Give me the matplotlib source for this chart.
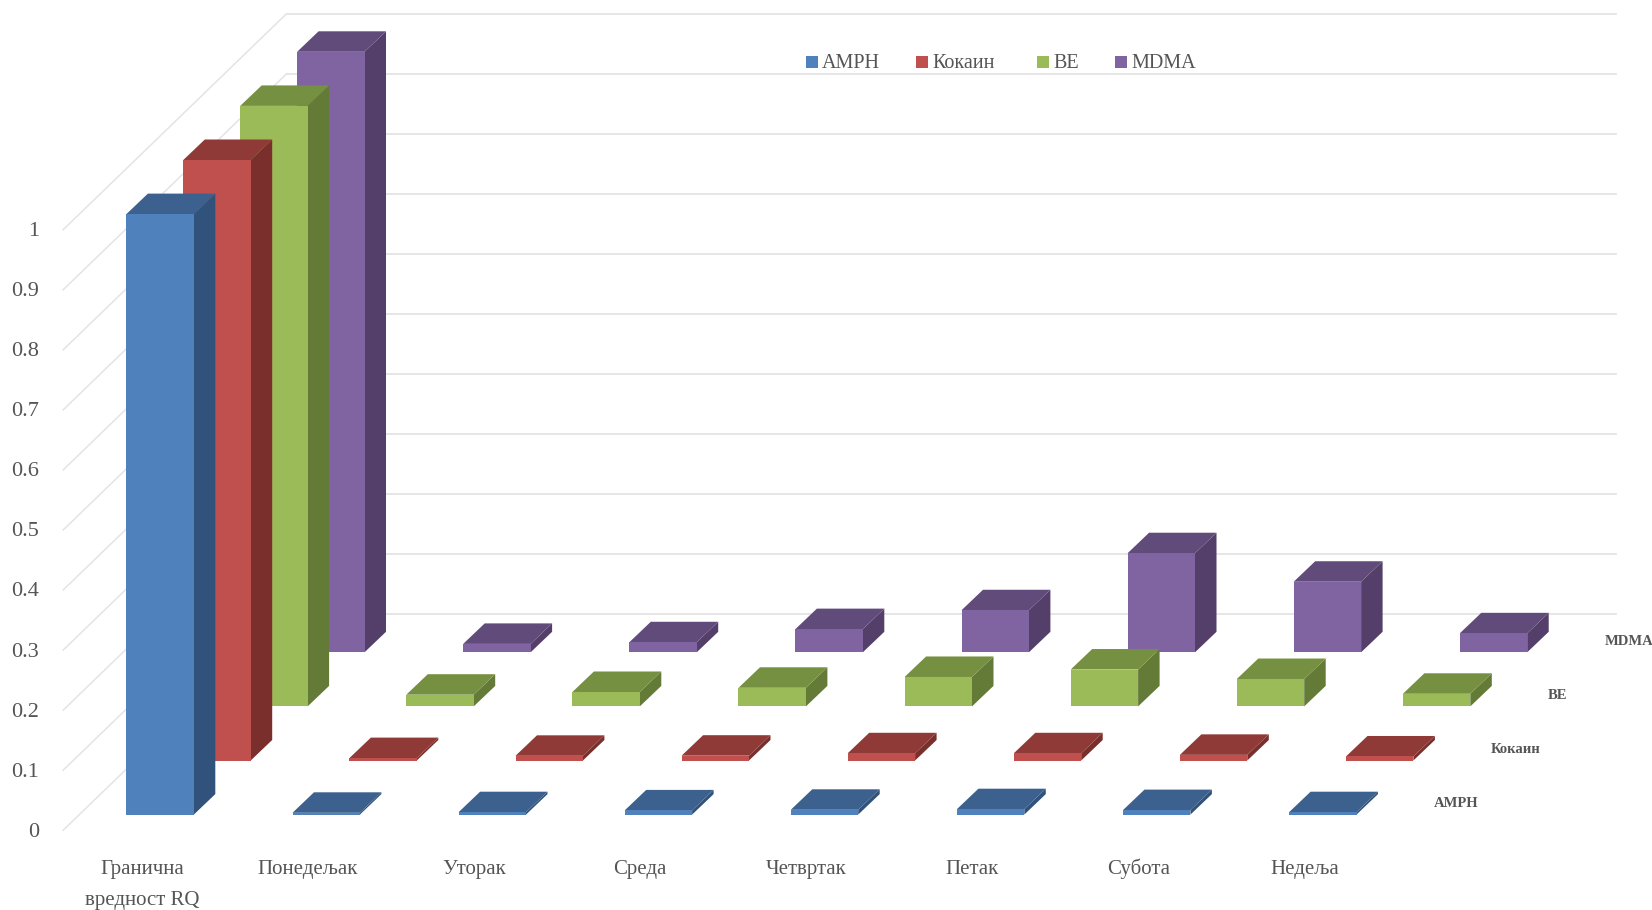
import matplotlib
matplotlib.use("Agg")
import matplotlib.pyplot as plt

# Подаци
categories = ["Гранична\nвредност RQ", "Понедељак", "Уторак", "Среда", "Четвртак", "Петак", "Субота", "Недеља"]
series_names = ["AMPH", "Кокаин", "BE", "MDMA"]
amph = [1.0, 0.003, 0.004, 0.007, 0.008, 0.009, 0.0075, 0.004]
kokain = [1.0, 0.004, 0.0078, 0.008, 0.012, 0.012, 0.0094, 0.0067]
be = [1.0, 0.0195, 0.024, 0.031, 0.049, 0.0614, 0.0456, 0.021]
mdma = [1.0, 0.014, 0.0167, 0.0386, 0.07, 0.165, 0.1175, 0.0316]
y_ticks = [0, 0.1, 0.2, 0.3, 0.4, 0.5, 0.6, 0.7, 0.8, 0.9, 1]
y_labels = ["0", "0.1", "0.2", "0.3", "0.4", "0.5", "0.6", "0.7", "0.8", "0.9", "1"]
all_series = [amph, kokain, be, mdma]

# Боје: предња, бочна и горња страна
front = ["#4F81BD", "#C0504D", "#9BBB59", "#8064A2"]
side = ["#31527B", "#7A2F2C", "#647A37", "#533F69"]
top = ["#3C618F", "#8F3A37", "#769042", "#614B7B"]
TEXT = "#555555"
GRID = "#E4E4E4"

# Геометрија косе пројекције (у пикселима слике)
X0, BASE_Y = 126.4, 814.6
CAT_STEP = 166.1
SER_DX, SER_DY = 56.9, 54.1
BAR_W = 67.4
DEPTH_DX, DEPTH_DY = 21.5, 20.5
UNIT = 600.5
WALL_X0, WALL_X1, WALL_Y0 = 286.6, 1616, 614.2
FLOOR_X0, FLOOR_Y0 = 63.2, 830.2


def project(cat, ser, val):
    x = X0 + cat * CAT_STEP + ser * SER_DX
    y = BASE_Y - ser * SER_DY - val * UNIT
    return x, y


plt.rcParams["font.family"] = ["Liberation Serif", "DejaVu Serif"]
fig = plt.figure(figsize=(16.52, 9.1), dpi=100)
ax = fig.add_axes([0, 0, 1, 1])
ax.set_xlim(0, 1652)
ax.set_ylim(910, 0)
ax.axis("off")

# Мрежа и ознаке осе
for tick, lab in zip(y_ticks, y_labels):
    yb = WALL_Y0 - tick * UNIT
    yf = FLOOR_Y0 - tick * UNIT
    ax.plot([WALL_X0, WALL_X1], [yb, yb], color=GRID, lw=1.3, zorder=1)
    ax.plot([FLOOR_X0, WALL_X0], [yf, yb], color=GRID, lw=1.1, zorder=1)
    ax.text(39, yf + 2, lab, ha="right", va="center", fontsize=16, color=TEXT)

# Стубићи, од задњег реда ка предњем
z = 2
for ser in range(len(all_series) - 1, -1, -1):
    vals = all_series[ser]
    for cat, val in enumerate(vals):
        x, y = project(cat, ser, val)
        _, y0 = project(cat, ser, 0)
        x1 = x + BAR_W
        ax.fill([x1, x1 + DEPTH_DX, x1 + DEPTH_DX, x1],
                [y0, y0 - DEPTH_DY, y - DEPTH_DY, y], color=side[ser], lw=0, zorder=z)
        ax.fill([x, x + DEPTH_DX, x1 + DEPTH_DX, x1],
                [y, y - DEPTH_DY, y - DEPTH_DY, y], color=top[ser], lw=0, zorder=z)
        ax.fill([x, x1, x1, x], [y0, y0, y, y], color=front[ser], lw=0, zorder=z)
    z += 1

# Називи категорија
for cat, lab in enumerate(categories):
    cx = X0 + cat * CAT_STEP + 15.5
    for i, line in enumerate(lab.split("\n")):
        ax.text(cx, 874 + i * 30.5, line, ha="center", va="baseline", fontsize=15, color=TEXT,
                zorder=10)

# Називи редова на дубинској оси
for ser, name in enumerate(series_names):
    x = 1434 + ser * SER_DX
    y = 807 - ser * SER_DY
    ax.text(x, y, name, ha="left", va="baseline", fontsize=10.5, fontweight="bold", color=TEXT)

# Легенда
leg_x = [812, 922, 1043, 1121]
for name, col, lx in zip(series_names, front, leg_x):
    ax.scatter([lx], [62], marker="s", s=85, color=col, linewidths=0, zorder=10)
    ax.text(lx + 10, 68, name, ha="left", va="baseline", fontsize=14.5, color=TEXT, zorder=10)

fig.savefig("out.png", dpi=100, facecolor="white")
